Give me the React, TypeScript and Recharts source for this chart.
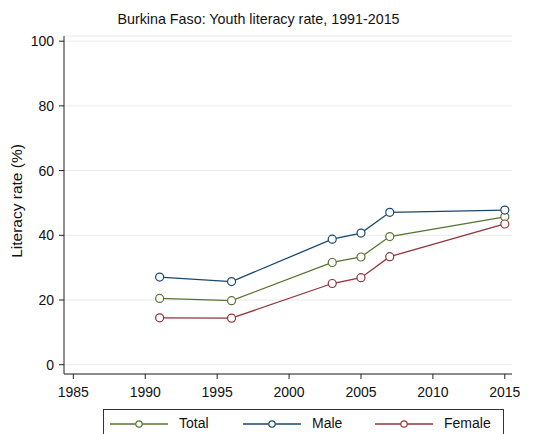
import { LineChart, Line, CartesianGrid, XAxis, YAxis, Legend, Customized } from 'recharts';

const years: number[] = [1991, 1996, 2003, 2005, 2007, 2015];
const totalRate: number[] = [20.5, 19.8, 31.6, 33.3, 39.6, 45.7];
const maleRate: number[] = [27.1, 25.7, 38.8, 40.7, 47.1, 47.8];
const femaleRate: number[] = [14.5, 14.4, 25.1, 26.9, 33.4, 43.5];

const xTicks: number[] = [1985, 1990, 1995, 2000, 2005, 2010, 2015];
const yTicks: number[] = [0, 20, 40, 60, 80, 100];

const title = 'Burkina Faso: Youth literacy rate, 1991-2015';
const yLabel = 'Literacy rate (%)';

const series = [
    { key: 'total', name: 'Total', color: '#55752f' },
    { key: 'male', name: 'Male', color: '#1a476f' },
    { key: 'female', name: 'Female', color: '#90353b' },
];

const data = years.map((year, i) => ({
    year,
    total: totalRate[i],
    male: maleRate[i],
    female: femaleRate[i],
}));

const FONT = '"Liberation Sans", Arial, sans-serif';

const legendOffsets = [6, 139, 271];

const LegendBox = () => (
    <div
        style={{
            position: 'relative',
            width: 401,
            height: 34,
            border: '1px solid #333',
            boxSizing: 'border-box',
            background: '#fff',
            fontFamily: FONT,
            fontSize: 14,
            color: '#111',
        }}
    >
        {series.map((s, i) => (
            <div key={s.key} style={{ position: 'absolute', left: legendOffsets[i], top: 6 }}>
                <svg width={60} height={16} style={{ position: 'absolute', left: 0, top: 0 }}>
                    <line x1={0} y1={8} x2={58} y2={8} stroke={s.color} strokeWidth={1.3} />
                    <circle cx={29} cy={8} r={3.2} stroke={s.color} strokeWidth={1.2} fill="#fff" />
                </svg>
                <span style={{ position: 'absolute', left: 69, top: -1, whiteSpace: 'nowrap' }}>{s.name}</span>
            </div>
        ))}
    </div>
);

const App = () => (
    <div style={{ position: 'absolute', left: 0, top: 0 }}>
        <LineChart
            width={549}
            height={434}
            data={data}
            margin={{ top: 36, right: 37, left: 0, bottom: 0 }}
            style={{ fontFamily: FONT, background: '#fff' }}
        >
            <CartesianGrid vertical={false} stroke="#eaeaea" />
            <XAxis
                dataKey="year"
                type="number"
                domain={[1984.35, 2015.5]}
                ticks={xTicks}
                interval={0}
                height={60}
                tickSize={5}
                tickMargin={8}
                stroke="#222"
                tick={{ fill: '#111', fontSize: 14 }}
                allowDataOverflow
            />
            <YAxis
                type="number"
                domain={[-2.87, 101.6]}
                ticks={yTicks}
                interval={0}
                width={64}
                tickSize={5}
                tickMargin={5}
                stroke="#222"
                tick={{ fill: '#111', fontSize: 14 }}
                allowDataOverflow
            />
            {series.map((s) => (
                <Line
                    key={s.key}
                    type="linear"
                    dataKey={s.key}
                    name={s.name}
                    stroke={s.color}
                    strokeWidth={1.3}
                    dot={{ r: 4, stroke: s.color, strokeWidth: 1.2, fill: '#fff' }}
                    isAnimationActive={false}
                />
            ))}
            <Legend
                verticalAlign="middle"
                layout="horizontal"
                content={() => <LegendBox />}
                wrapperStyle={{ position: 'absolute', left: 103, top: 409, width: 401 }}
            />
            <Customized
                component={() => (
                    <g>
                        <text x={258.5} y={24} textAnchor="middle" fontSize={14.3} fill="#111" fontFamily={FONT}>
                            {title}
                        </text>
                        <text
                            x={22}
                            y={201}
                            textAnchor="middle"
                            fontSize={15.5}
                            fill="#111"
                            fontFamily={FONT}
                            transform="rotate(-90 22 201)"
                        >
                            {yLabel}
                        </text>
                    </g>
                )}
            />
        </LineChart>
    </div>
);

export default App;
